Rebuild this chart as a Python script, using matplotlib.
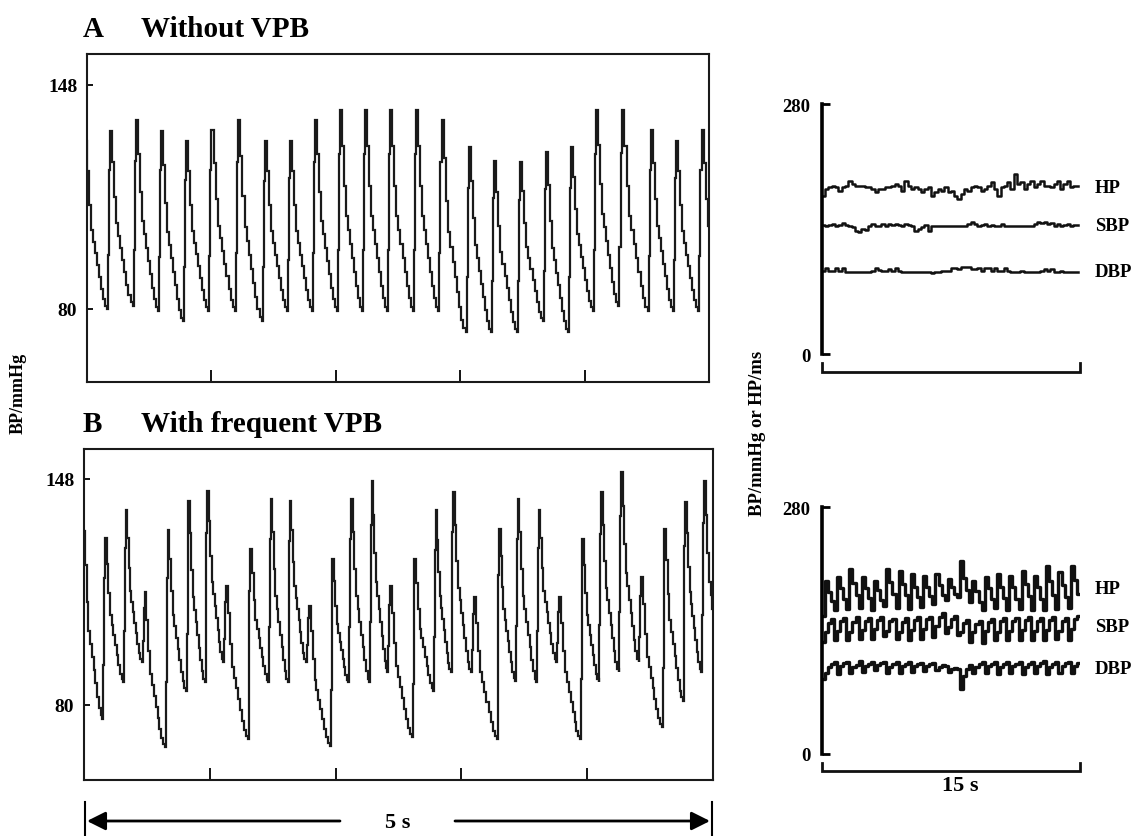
import numpy as np
import matplotlib
matplotlib.use("Agg")
import matplotlib.pyplot as plt

plt.rcParams['font.family'] = ['Liberation Serif', 'DejaVu Serif']
plt.rcParams['font.weight'] = 'bold'

# ---------------- data ----------------
# Panel A (without VPB): beat onset (trough) times in s, trough (diastolic) and peak (systolic) pressure, mmHg
a_onset = [-0.040, 0.158, 0.367, 0.573, 0.774, 0.975, 1.190, 1.404, 1.605, 1.806, 2.007, 2.208, 2.414,
           2.618, 2.824, 3.044, 3.245, 3.459, 3.663, 3.869, 4.065, 4.271, 4.507, 4.713, 4.914, 5.129]
a_trough = [80, 80, 81, 79.5, 76.2, 79.5, 79.5, 76.2, 79.5, 79.5, 79.5, 79.5, 79.5,
            79.5, 79.5, 72.9, 72.9, 72.9, 76.2, 72.9, 79.5, 81, 79.5, 79.5, 79.5, 79.5]
a_peak = [131, 134.1, 137.4, 134.1, 131.1, 134.2, 137.4, 131, 131, 137.4, 140.5, 140.5, 140.5,
          140.5, 137.4, 129.1, 125.0, 124.5, 127.6, 129.1, 140.5, 140.5, 134.2, 131, 134.2]

# Panel B (with frequent VPB)
b_onset = [-0.028, 0.146, 0.313, 0.459, 0.644, 0.811, 0.962, 1.108, 1.302, 1.466, 1.620, 1.763, 1.956,
           2.102, 2.269, 2.412, 2.606, 2.778, 2.916, 3.075, 3.282, 3.428, 3.595, 3.754, 3.945, 4.090,
           4.249, 4.408, 4.594, 4.761, 4.907, 5.074]
b_trough = [90, 75.7, 86.8, 92.8, 67.2, 84.2, 86.8, 92.8, 69.7, 86.8, 86.8, 92.8, 67.7, 86.8, 86.8,
            89.8, 70.2, 84.2, 89.8, 89.8, 69.7, 87.3, 86.8, 92.8, 69.7, 86.8, 89.8, 92.8, 73.2, 81.2,
            89.8, 90]
b_peak = [132.4, 130.2, 138.5, 113.9, 132.7, 141.5, 144.5, 115.9, 126.9, 142, 141.5, 109.8, 123.9,
          142, 147.5, 115.9, 123.9, 138.5, 144, 112.4, 132.9, 142, 138.5, 112.4, 129.9, 144, 150,
          118.4, 132.9, 141, 147.5]

# generic arterial pulse contour: phase within beat -> fraction of pulse pressure
pulse_phase = [0.0, 0.04, 0.08, 0.12, 0.20, 0.28, 0.36, 0.44, 0.52, 0.60, 0.68, 0.76, 0.84, 0.92]
pulse_frac = [0.0, 0.30, 0.78, 1.00, 0.82, 0.62, 0.47, 0.40, 0.33, 0.26, 0.19, 0.12, 0.06, 0.02]

# 15-s beat-to-beat trends (top: without VPB, bottom: with VPB)
hp_top = [177.4, 184.8, 186.7, 188.5, 186.7, 183.0, 186.7, 188.5, 194.1, 190.4, 188.5, 187.8, 188.5,
          186.7, 186.7, 184.8, 181.1, 184.8, 184.8, 186.7, 186.7, 188.5, 190.4, 188.5, 183.0, 194.1,
          188.5, 184.8, 186.7, 184.8, 181.1, 184.8, 186.7, 177.4, 181.1, 184.8, 183.0, 186.7, 181.1,
          183.0, 177.4, 173.7, 179.2, 184.8, 183.0, 186.7, 188.5, 186.7, 183.0, 184.8, 188.5, 192.2,
          184.8, 177.4, 186.7, 188.5, 192.2, 184.8, 201.5, 190.4, 192.2, 184.8, 190.4, 194.1, 186.7,
          190.4, 194.1, 188.5, 188.5, 186.7, 190.4, 194.1, 184.8, 190.4, 194.1, 186.7, 188.5, 188.5]
sbp_top = [144.5, 143.7, 144.5, 145.6, 143.7, 144.5, 146.7, 144.5, 143.7, 141.9, 138.1, 137.0, 140.0,
           139.3, 143.0, 145.6, 143.7, 143.0, 145.6, 143.7, 145.6, 144.5, 145.6, 144.5, 143.7, 145.6,
           144.5, 143.0, 138.1, 140.0, 141.9, 144.5, 138.1, 143.7, 143.7, 143.7, 143.7, 143.7, 143.7,
           143.7, 143.7, 143.7, 143.7, 143.7, 145.6, 147.5, 145.6, 143.7, 144.5, 145.6, 143.7, 144.5,
           143.7, 143.7, 145.6, 143.7, 143.7, 143.7, 143.7, 143.7, 143.7, 143.7, 143.7, 143.7, 145.6,
           147.5, 146.7, 147.5, 145.6, 146.7, 143.7, 145.6, 143.7, 144.5, 145.6, 143.7, 144.5, 144.5]
dbp_top = [93.4, 96.0, 93.4, 93.4, 96.0, 93.4, 96.0, 92.2, 91.5, 91.5, 91.5, 91.5, 91.5, 91.5, 92.2,
           93.4, 96.0, 94.5, 93.4, 93.4, 95.2, 93.4, 96.0, 93.4, 92.2, 92.2, 91.5, 91.5, 92.2, 92.2,
           91.5, 91.5, 91.5, 90.7, 92.2, 92.2, 93.4, 93.4, 93.4, 96.0, 96.0, 95.2, 97.1, 97.1, 97.1,
           95.2, 95.2, 96.0, 93.4, 96.0, 96.0, 93.4, 96.0, 93.4, 93.4, 96.0, 93.4, 92.2, 92.2, 91.5,
           93.4, 92.2, 92.2, 92.2, 92.2, 92.2, 93.4, 95.2, 93.4, 95.2, 92.2, 91.5, 93.4, 92.2, 92.2,
           92.2, 92.2, 92.2]

hp_bot = [157,
          196.7, 184, 174, 163, 200.5, 188, 176, 165, 210.0, 194, 180, 166, 200.5, 188, 177, 164,
          196.7, 186, 175, 168, 210.0, 195, 182, 166, 208.1, 193, 180, 165, 204.3, 190, 178, 167,
          202.4, 190, 179, 170, 204.3, 192, 181, 175, 198.6, 190, 182, 178, 219.4, 200, 186, 172,
          196.7, 185, 173, 164, 200.5, 188, 176, 166, 204.3, 190, 177, 163, 202.4, 189, 176, 165,
          208.1, 193, 179, 164, 202.4, 190, 176, 163, 213.8, 196, 180, 165, 206.2, 192, 178, 166,
          213.8, 198, 182]
sbp_bot = [127,
           138, 149, 153, 129, 140, 151, 154, 129, 139, 150, 155, 131, 141, 151, 154, 131,
           142, 152, 155, 134, 140, 151, 153, 131, 139, 150, 154, 129, 141, 152, 155, 131,
           142, 153, 156, 133, 145, 155, 160, 137, 144, 153, 157, 135, 138, 149, 152, 127,
           138, 148, 151, 126, 140, 150, 153, 129, 139, 151, 154, 129, 140, 151, 154, 129,
           141, 152, 155, 129, 140, 151, 154, 129, 141, 152, 155, 131, 140, 151, 154, 129,
           142, 153, 157]
dbp_bot = [85,
           92, 99, 102, 104, 91, 100, 103, 104, 92, 99, 101, 105, 93, 100, 102, 104,
           95, 101, 103, 104, 92, 99, 102, 104, 92, 100, 102, 104, 93, 100, 102, 103,
           94, 100, 102, 103, 95, 99, 101, 100, 93, 97, 98, 96, 74, 88, 96, 101,
           92, 99, 102, 104, 92, 100, 102, 104, 91, 99, 102, 104, 92, 100, 102, 104,
           91, 99, 102, 104, 92, 100, 103, 105, 91, 99, 102, 104, 92, 100, 103, 104,
           92, 100, 103]

trend_labels = ['HP', 'SBP', 'DBP']


def waveform(onset, trough, peak):
    t, v = [], []
    pk_phase = pulse_phase[int(np.argmax(pulse_frac))]
    for i in range(len(peak)):
        t0, t1 = onset[i], onset[i + 1]
        d0, d1 = trough[i], trough[i + 1]
        for ph, fr in zip(pulse_phase, pulse_frac):
            base = d0 if ph <= pk_phase else d1
            t.append(t0 + ph * (t1 - t0))
            v.append(base + fr * (peak[i] - base))
    t.append(onset[-1])
    v.append(trough[-1])
    return np.array(t), np.array(v)


W, H = 1141, 837
fig = plt.figure(figsize=(W / 100, H / 100), dpi=100)


def rect(l, t, r, b):
    return [l / W, 1 - b / H, (r - l) / W, (b - t) / H]


ov = fig.add_axes([0, 0, 1, 1])
ov.set_xlim(0, W)
ov.set_ylim(H, 0)
ov.axis('off')

LW = 1.5
for r, (on, tr, pk), ylim in [
        (rect(87, 55, 709, 383), (a_onset, a_trough, a_peak), (57.8, 157.4)),
        (rect(84, 450, 713, 781), (b_onset, b_trough, b_peak), (57.4, 157.0))]:
    ax = fig.add_axes(r)
    t, v = waveform(on, tr, pk)
    ax.plot(t, v, color='#1a1a1a', lw=1.6, drawstyle='steps-post', solid_joinstyle='miter')
    ax.set_xlim(0, 5)
    ax.set_ylim(*ylim)
    ax.set_xticks([1, 2, 3, 4])
    ax.set_xticklabels([])
    ax.set_yticks([80, 148])
    ax.set_yticklabels(['80', '148'], fontsize=14, fontweight='bold')
    ax.tick_params(axis='x', direction='in', length=9, width=1.3)
    ax.tick_params(axis='y', direction='in', length=4, width=1.3, pad=7)
    for s in ax.spines.values():
        s.set_linewidth(LW)
        s.set_color('#1a1a1a')

for r, series, ylab, lw in [
        (rect(821.7, 105, 1080, 355), (hp_top, sbp_top, dbp_top), (188, 226, 272), 1.8),
        (rect(821.7, 508.3, 1080, 755), (hp_bot, sbp_bot, dbp_bot), (590, 628, 670), 2.4)]:
    ax = fig.add_axes(r)
    n = len(series[0])
    for s in series:
        ax.plot(np.arange(len(s)), s, color='#111111', lw=lw, drawstyle='steps-mid')
    ax.set_xlim(-0.5, n - 0.5)
    ax.set_ylim(0, 280)
    for sp in ['top', 'right', 'bottom']:
        ax.spines[sp].set_visible(False)
    ax.spines['left'].set_linewidth(2.6)
    ax.set_xticks([])
    ax.set_yticks([0, 280])
    ax.set_yticklabels(['0', '280'], fontsize=13.5, fontweight='bold')
    ax.tick_params(axis='y', direction='in', length=6, width=2, pad=8)
    # 15-s scale bracket under the axis
    ybar = -(17.5 / 250)
    ax.plot([0, 0, 1, 1], [ybar + 0.035, ybar, ybar, ybar + 0.035], transform=ax.transAxes,
            color='#111111', lw=2, clip_on=False, solid_joinstyle='miter')
    for lab, y in zip(trend_labels, ylab):
        ov.text(1095, y, lab, fontsize=13.5, fontweight='bold', va='center', ha='left')

ov.text(960, 786, '15 s', fontsize=16, fontweight='bold', ha='center', va='center')

# titles
ov.text(83, 37, 'A', fontsize=21, fontweight='bold', ha='left', va='baseline')
ov.text(141, 37, 'Without VPB', fontsize=21, fontweight='bold', ha='left', va='baseline')
ov.text(83, 432, 'B', fontsize=21, fontweight='bold', ha='left', va='baseline')
ov.text(141, 432, 'With frequent VPB', fontsize=21, fontweight='bold', ha='left', va='baseline')

# axis labels
ov.text(18, 393, 'BP/mmHg', fontsize=13, fontweight='bold', rotation=90, ha='center', va='center')
ov.text(757, 433, 'BP/mmHg or HP/ms', fontsize=13.5, fontweight='bold', rotation=90,
        ha='center', va='center')

# 5-s double arrow
ov.plot([85, 85], [803, 837], color='black', lw=1.5)
ov.plot([712, 712], [803, 837], color='black', lw=1.5)
ov.annotate('', xy=(87, 822), xytext=(340, 822),
            arrowprops=dict(arrowstyle='-|>', lw=2, color='black', mutation_scale=28,
                            shrinkA=0, shrinkB=0))
ov.annotate('', xy=(710, 822), xytext=(455, 822),
            arrowprops=dict(arrowstyle='-|>', lw=2, color='black', mutation_scale=28,
                            shrinkA=0, shrinkB=0))
ov.text(398, 823, '5 s', fontsize=16, fontweight='bold', ha='center', va='center')

fig.savefig('out.png', dpi=100)
